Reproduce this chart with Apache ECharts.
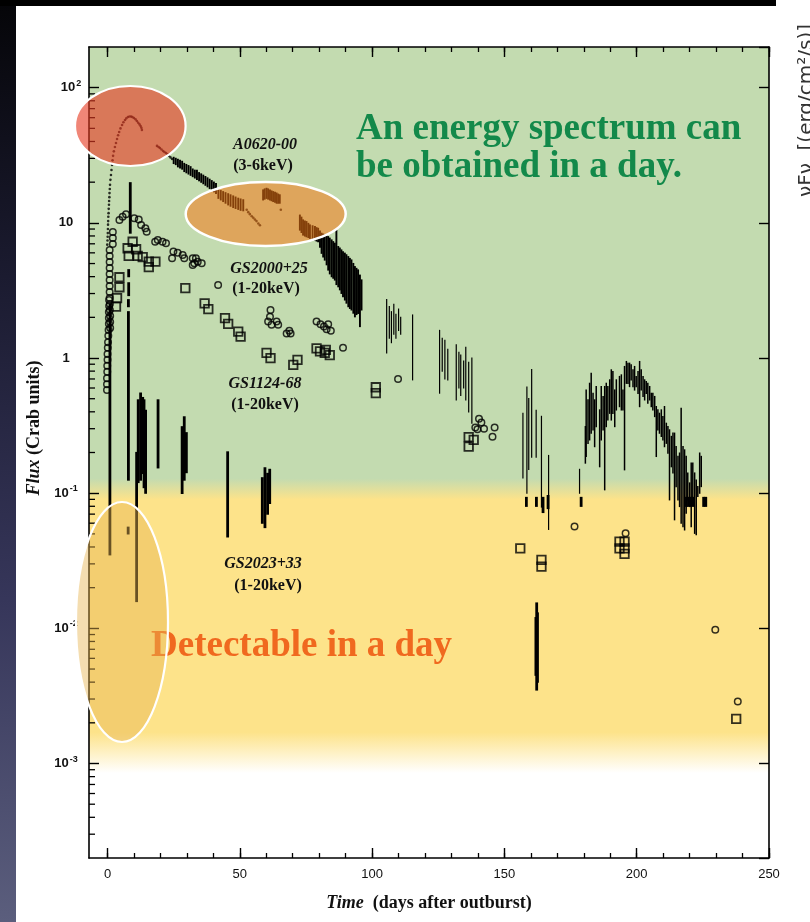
<!DOCTYPE html>
<html><head><meta charset="utf-8">
<style>html,body{margin:0;padding:0;background:#fff;}#c{width:810px;height:922px;}</style>
<script src="https://cdn.jsdelivr.net/npm/echarts@6/dist/echarts.min.js"></script>
</head><body><div id="c"></div>
<script>
// ---------- axis ranges & ticks ----------
const xMin = -7, xMax = 250;
const yMin = 2e-4, yMax = 200;
const xMajorTicks = [0, 50, 100, 150, 200, 250];
const xMinorTicks = [0,10,20,30,40,50,60,70,80,90,100,110,120,130,140,150,160,170,180,190,200,210,220,230,240,250];
const yTickValues = [0.001, 0.01, 0.1, 1, 10, 100];
const yTickText = ['10{s|-3}', '10{s|-2}', '10{s|-1}', '1', '10', '{p|10}{s|2}'];
const yMinorMantissa = [2,3,4,5,6,7,8,9];
const yMinorDecades = [1e-4, 1e-3, 1e-2, 1e-1, 1, 10];

// ---------- A0620-00 (3-6 keV) ----------
// dotted parts [day, flux]
const a0620Dots = [
 [-0.1,6.9],[0.0,7.4],[0.05,7.9],[0.1,8.4],[0.15,9.0],[0.2,9.7],[0.25,10.3],[0.3,11.1],[0.4,11.8],[0.45,12.7],
 [0.55,13.6],[0.6,14.5],[0.7,15.5],[0.75,16.6],[0.85,17.8],[0.95,19.1],[1.1,20.8],[1.3,22.6],[1.5,24.6],[1.7,26.8],
 [1.9,29.0],[2.1,31.3],[2.4,33.8],[2.8,36.4],[3.2,39.0],[3.6,41.7],[4.0,44.5],[4.4,47.0],[4.9,50.0],[5.5,53.0],
 [6.0,55.5],[6.6,57.7],[7.1,59.3],[7.7,60.7],[8.3,61.2],[8.9,61.2],[9.4,60.6],[10.0,59.7],[10.6,58.3],[11.1,56.7],
 [11.6,55.0],[12.1,53.5],[12.5,52.0],[12.8,50.5],[13.0,48.7],
 [18.7,37.1],[19.3,36.4],[19.8,35.8],[20.4,34.9],[21.0,34.0],[21.5,33.4],[22.1,32.9],[22.7,32.1],[23.2,31.3],[23.8,30.5],[24.4,29.7],
 [52.6,12.5],[53.2,12.0],[53.8,11.6],[54.5,11.2],[55.1,10.9],[55.7,10.6],[56.3,10.3],[57.0,9.9],[57.6,9.6],[65.5,12.5]
];
// dense decline [day, low, high]
const a0620Band = [
 [25.0,27.5,30.5],[25.8,27.0,30.0],[26.6,26.0,29.5],[27.4,25.5,29.0],[28.2,25.0,28.5],[29.0,24.0,27.5],[29.8,23.5,27.0],
 [30.6,23.0,26.5],[31.4,22.5,26.0],[32.2,22.0,25.0],[33.0,21.5,24.5],[33.8,21.0,24.5],[34.6,20.5,23.5],[35.4,20.0,23.0],
 [36.2,19.5,22.5],[37.0,19.0,22.0],[37.8,18.5,21.5],[38.6,18.0,21.0],[39.4,17.5,20.5],[40.2,17.0,20.0],[41.0,16.5,19.5],
 [41.9,15.2,17.5],[42.8,14.8,17.3],[43.7,14.4,17.0],[44.6,14.0,16.7],[45.6,13.6,16.4],[46.5,13.3,16.1],[47.5,13.0,15.8],
 [48.4,12.8,15.5],[49.4,12.6,15.2],[50.3,12.4,15.0],[51.3,12.3,14.8],
 [58.8,14.8,17.5],[59.4,15.0,17.8],[60.1,15.2,18.0],[60.7,15.0,17.8],[61.4,14.8,17.5],[62.0,14.6,17.2],[62.6,14.4,17.0],
 [63.3,14.2,16.8],[63.9,14.0,16.6],[64.5,14.0,16.3],[65.1,14.0,16.1],
 [72.7,8.85,11.4],[73.3,8.5,11.0],[73.9,8.13,10.5],[74.6,8.0,10.3],[75.2,7.9,10.2],[75.9,7.8,9.9],[76.5,7.69,9.64],
 [77.5,7.6,9.5],[78.4,7.47,9.37],[79.0,7.35,9.2],[79.6,7.26,9.1],[80.3,6.6,8.7],[80.9,5.96,8.37],[81.5,5.6,8.25],
 [82.1,5.31,8.13],[82.8,4.9,8.0],[83.4,4.48,7.9],[84.0,4.2,7.7],[84.7,4.0,7.47],[85.3,3.9,7.25],[85.9,3.78,7.06],
 [86.5,3.5,8.85],[87.2,3.37,6.67],[87.8,3.2,6.5],[88.4,3.01,6.3],[89.0,2.85,6.1],[89.7,2.69,5.96],[90.3,2.55,5.8],
 [91.0,2.4,5.62],[91.6,2.33,5.45],[92.2,2.27,5.31],[92.9,2.15,5.0],[93.5,2.02,4.74],[94.1,2.1,4.6],[94.7,2.14,4.48],
 [95.4,1.71,4.1],[96.0,2.27,3.78]
];
const a0620Sparse = [
 [105.5,1.09,2.7],[106.5,1.4,2.4],[107.3,1.3,2.2],[108.2,1.5,2.5],[109.0,1.4,2.1],[110.0,1.6,2.3],[110.8,1.5,2.0],[115.3,0.69,2.08],
 [125.5,0.55,1.6],[126.5,0.8,1.4],[127.5,0.7,1.35],[128.6,0.69,1.16],
 [131.8,0.49,1.25],[132.8,0.6,1.1],[133.5,0.53,1.05],[134.6,0.6,0.95],[135.4,0.49,1.2],[136.5,0.4,0.93],[137.7,0.33,1.0],
 [157.0,0.13,0.39],[158.5,0.10,0.61],[159.2,0.15,0.5],[160.3,0.185,0.82],[162.0,0.185,0.41],[164.0,0.079,0.37],[166.7,0.054,0.19],
 [178.4,0.1,0.15]
];
const a0620Second = [
 [180.6,0.167,0.311],[180.9,0.187,0.58],[181.6,0.234,0.49],[182.2,0.248,0.65],[182.8,0.278,0.77],[183.5,0.294,0.548],
 [184.1,0.221,0.49],[184.7,0.311,0.615],[186.0,0.157,0.413],[186.6,0.248,0.615],[187.3,0.294,0.519],[187.9,0.106,0.615],
 [188.5,0.311,0.65],[189.1,0.348,0.615],[189.8,0.39,0.689],[190.4,0.348,0.817],[191.0,0.39,0.794],[191.7,0.311,0.58],
 [192.3,0.413,0.689],[193.5,0.437,0.73],[194.2,0.413,0.75],[194.8,0.413,0.58],[195.4,0.149,0.865],[196.1,0.65,0.942],
 [196.7,0.65,0.915],[197.3,0.615,0.915],[197.9,0.689,0.889],[198.6,0.615,0.817],[199.2,0.58,0.865],[199.8,0.615,0.73],
 [200.5,0.548,0.794],[201.1,0.437,0.942],[201.7,0.58,0.817],[202.4,0.519,0.73],[203.0,0.49,0.689],[203.6,0.548,0.669],
 [204.2,0.463,0.65],[204.9,0.49,0.615],[205.5,0.437,0.548],[206.1,0.413,0.548],[206.8,0.369,0.519],[207.4,0.187,0.437],
 [208.0,0.294,0.413],[208.6,0.278,0.39],[209.3,0.263,0.413],[209.9,0.248,0.369],[210.5,0.221,0.437],[211.2,0.234,0.329],
 [211.8,0.198,0.311],[212.4,0.0893,0.294],[213.1,0.157,0.263],[213.7,0.141,0.278],[214.3,0.0636,0.278],[214.9,0.112,0.221],
 [215.6,0.0893,0.187],[216.2,0.0797,0.198],[216.8,0.06,0.425],[217.5,0.0566,0.221],[218.1,0.0535,0.209],[218.7,0.0711,0.187],
 [219.3,0.0893,0.141],[220.0,0.0797,0.119],[220.6,0.0566,0.167],[221.2,0.0893,0.167],[221.9,0.0505,0.141],[222.5,0.0493,0.125],
 [223.1,0.0945,0.112],[223.8,0.1,0.198],[224.4,0.112,0.187]
];

// ---------- GS2000+25 (1-20 keV), circles [day, flux] ----------
const gs2000 = [
 [0.6,2.69],[0.6,2.43],[0.5,2.19],[0.5,1.98],[0.5,1.79],[0.4,1.61],[0.3,1.46],[0.2,1.31],[0.1,1.19],[0.0,1.07],
 [0.0,0.97],[-0.1,0.875],[-0.1,0.79],[-0.2,0.71],[-0.2,0.64],[-0.2,0.58],
 [0.8,6.3],[0.8,5.69],[0.8,5.14],[0.8,4.64],[0.8,4.19],[0.8,3.78],[0.8,3.41],[0.8,3.08],[0.8,2.78],
 [0.9,2.51],[0.9,2.27],[1.0,2.05],[1.0,1.85],[1.0,1.67],
 [2.0,8.55],[2.0,7.73],[2.0,6.98],
 [4.5,10.5],[5.7,11.1],[7.0,11.6],[10.1,10.8],[11.8,10.6],[12.7,9.65],[14.3,9.12],[14.8,8.61],
 [18.0,7.25],[19.0,7.47],[20.8,7.25],[22.1,7.06],
 [24.4,5.47],[24.9,6.13],[26.5,6.0],[28.4,5.78],[29.0,5.47],
 [32.2,5.47],[32.2,4.88],[32.8,5.03],[33.4,5.47],[34.1,5.16],
 [35.6,5.03],[41.8,3.47],
 [60.7,1.86],[61.4,2.02],[61.6,2.27],[62.0,1.76],[63.9,1.86],[64.5,1.76],[67.7,1.52],[68.7,1.59],[69.2,1.52],
 [79.0,1.86],[80.5,1.78],[81.8,1.71],[82.8,1.63],[83.4,1.78],[84.4,1.59],
 [89.0,1.19],[109.8,0.70],
 [139.0,0.306],[139.8,0.297],[140.4,0.355],[141.3,0.333],[142.3,0.30],[145.5,0.262],[146.3,0.306],
 [176.5,0.0566],[195.8,0.0506],[229.7,0.00976],[238.2,0.00288]
];

// ---------- GS1124-68 (1-20 keV), squares [day, flux] ----------
const gs1124 = [
 [3.2,2.40],[3.6,2.77],[4.5,3.34],[4.5,3.96],[7.6,6.49],[8.0,5.69],[9.5,7.25],[10.8,6.38],[11.4,5.69],[13.3,5.57],
 [15.6,5.16],[15.6,4.70],[18.1,5.16],[29.4,3.29],[36.7,2.54],[38.1,2.30],[44.4,1.97],[45.6,1.79],[49.4,1.57],[50.3,1.44],
 [60.1,1.09],[61.6,0.997],[70.2,0.889],[71.8,0.968],[79.0,1.18],[80.3,1.12],[82.1,1.09],[82.5,1.15],[84.0,1.05],
 [101.4,0.608],[101.4,0.55],[136.5,0.26],[136.5,0.221],[138.4,0.248],[156.0,0.039],[164.0,0.0321],[164.0,0.0286],
 [193.5,0.0438],[195.4,0.0438],[193.5,0.039],[195.4,0.039],[195.4,0.0356],[237.6,0.00214]
];

// ---------- GS2023+33 (1-20 keV), vertical bars [day, low, high] ----------
const gs2023 = [
 [0.9,0.035,2.5],[8.6,8.4,19.8],[8.0,4.0,4.5],[8.0,2.9,3.6],[7.9,2.4,2.7],[7.9,0.125,2.2],[7.8,0.05,0.056],
 [11.0,0.0158,0.2],
 [11.6,0.12,0.49],[12.5,0.125,0.55],[13.3,0.14,0.51],[13.8,0.11,0.49],[14.4,0.1,0.41],
 [19.1,0.154,0.49],
 [28.2,0.0996,0.31],[29.0,0.125,0.367],[29.8,0.142,0.28],
 [45.4,0.0475,0.202],
 [58.5,0.06,0.13],[59.5,0.0557,0.154],[60.5,0.07,0.14],[61.3,0.084,0.15],
 [158.3,0.08,0.093],[162.1,0.08,0.093],[164.6,0.072,0.093],[166.5,0.077,0.096],[179.0,0.08,0.093],
 [161.9,0.0045,0.012],[162.2,0.0035,0.0154],[162.5,0.004,0.013],
 [218.8,0.08,0.093],[219.6,0.08,0.093],[220.4,0.08,0.093],[221.2,0.08,0.093],[225.3,0.08,0.093],[226.1,0.08,0.093]
];

// ---------- build ----------
const yMinorTicks = [];
yMinorDecades.forEach(d => yMinorMantissa.forEach(m => {
  const v = m * d; if (v > yMin * 1.0001 && v < yMax * 0.9999) yMinorTicks.push([xMin, v]);
}));

const chart = echarts.init(document.getElementById('c'), null, {renderer: 'canvas'});

function barSeries(data, lw) {
  return {
    type: 'custom', data: data, encode: {x: 0, y: [1, 2]}, silent: true, z: 3,
    renderItem: function (params, api) {
      const a = api.coord([api.value(0), api.value(1)]);
      const b = api.coord([api.value(0), api.value(2)]);
      return {type: 'line', shape: {x1: a[0], y1: a[1] + 0.6, x2: b[0], y2: b[1] - 0.6},
              style: {stroke: '#000', lineWidth: lw}};
    }
  };
}

const serif = '"Liberation Serif", "Times New Roman", serif';
const sans = '"Liberation Sans", Arial, sans-serif';

const xCommon = {type: 'value', min: xMin, max: xMax, splitLine: {show: false}, gridIndex: 0};

const option = {
  backgroundColor: '#ffffff',
  animation: false,
  grid: {
    left: 89, right: 41, top: 47, bottom: 64, show: true, borderWidth: 0,
    outerBoundsMode: 'none',
    backgroundColor: {type: 'linear', x: 0, y: 0, x2: 0, y2: 1, colorStops: [
      {offset: 0, color: '#c3dbb0'}, {offset: 0.532, color: '#c3dbb0'},
      {offset: 0.558, color: '#fde38a'}, {offset: 0.845, color: '#fde38a'},
      {offset: 0.895, color: '#ffffff'}, {offset: 1, color: '#ffffff'}]}
  },
  xAxis: [
    Object.assign({}, xCommon, {
      position: 'bottom',
      axisLine: {show: true, onZero: false, lineStyle: {color: '#000', width: 1.6}},
      axisTick: {show: true, inside: true, length: 10, customValues: xMajorTicks, lineStyle: {color: '#000', width: 1.4}},
      axisLabel: {show: true, customValues: xMajorTicks, margin: 10, color: '#111', fontSize: 13, fontFamily: sans},
      name: '{i|Time}  (days after outburst)', nameLocation: 'middle', nameGap: 36,
      nameTextStyle: {fontFamily: serif, fontWeight: 'bold', fontSize: 18, color: '#111',
        rich: {i: {fontFamily: serif, fontWeight: 'bold', fontStyle: 'italic', fontSize: 18, color: '#111'}}}
    }),
    Object.assign({}, xCommon, {
      position: 'bottom', axisLine: {show: false},
      axisTick: {show: true, inside: true, length: 5, customValues: xMinorTicks, lineStyle: {color: '#000', width: 1.3}},
      axisLabel: {show: false}
    }),
    Object.assign({}, xCommon, {
      position: 'top',
      axisLine: {show: true, onZero: false, lineStyle: {color: '#000', width: 1.6}},
      axisTick: {show: true, inside: true, length: 10, customValues: xMajorTicks, lineStyle: {color: '#000', width: 1.4}},
      axisLabel: {show: false}
    }),
    Object.assign({}, xCommon, {
      position: 'top', axisLine: {show: false},
      axisTick: {show: true, inside: true, length: 5, customValues: xMinorTicks, lineStyle: {color: '#000', width: 1.3}},
      axisLabel: {show: false}
    })
  ],
  yAxis: [
    {
      type: 'log', logBase: 10, min: yMin, max: yMax, position: 'left', splitLine: {show: false},
      axisLine: {show: true, onZero: false, lineStyle: {color: '#000', width: 1.6}},
      axisTick: {show: true, inside: true, length: 10, lineStyle: {color: '#000', width: 1.4}},
      axisLabel: {
        show: true, margin: 23, align: 'center', color: '#111', fontSize: 13, fontWeight: 'bold', fontFamily: sans,
        showMinLabel: false, showMaxLabel: false,
        formatter: function (v) {
          const i = yTickValues.findIndex(t => Math.abs(Math.log10(t) - Math.log10(v)) < 1e-6);
          return i < 0 ? '' : yTickText[i];
        },
        rich: {
          s: {fontSize: 9, fontWeight: 'bold', fontFamily: sans, color: '#111', padding: [0, 0, 9, 1]},
          p: {fontSize: 13, fontWeight: 'bold', fontFamily: sans, color: '#111', padding: [0, 0, 0, 10]}
        }
      },
      name: '{i|Flux} (Crab units)', nameLocation: 'middle', nameGap: 36, nameRotate: 90,
      nameTextStyle: {fontFamily: serif, fontWeight: 'bold', fontSize: 18, color: '#111', padding: [0, 0, 0, 49],
        rich: {i: {fontFamily: serif, fontWeight: 'bold', fontStyle: 'italic', fontSize: 18, color: '#111'}}}
    },
    {
      type: 'log', logBase: 10, min: yMin, max: yMax, position: 'right', splitLine: {show: false},
      axisLine: {show: true, onZero: false, lineStyle: {color: '#000', width: 1.6}},
      axisTick: {show: true, inside: true, length: 10, lineStyle: {color: '#000', width: 1.4}},
      axisLabel: {show: false}
    }
  ],
  series: [
    {
      type: 'custom', data: yMinorTicks, encode: {x: 0, y: 1}, silent: true, clip: false, z: 4,
      renderItem: function (params, api) {
        const p = api.coord([api.value(0), api.value(1)]);
        return {type: 'line', shape: {x1: p[0], y1: p[1], x2: p[0] + 6, y2: p[1]}, style: {stroke: '#000', lineWidth: 1.3}};
      }
    },
    barSeries(a0620Band, 1.9),
    barSeries(a0620Sparse, 1.2),
    barSeries(a0620Second, 1.5),
    barSeries(gs2023, 2.8),
    {type: 'scatter', data: a0620Dots, symbol: 'circle', symbolSize: 2.6, silent: true, z: 3,
     itemStyle: {color: '#000'}},
    {type: 'scatter', data: gs2000, symbol: 'circle', symbolSize: 6.5, silent: true, z: 4,
     itemStyle: {color: 'rgba(0,0,0,0)', borderColor: '#000', borderWidth: 1.5}},
    {type: 'scatter', data: gs1124, symbol: 'rect', symbolSize: 8.5, silent: true, z: 4,
     itemStyle: {color: 'rgba(0,0,0,0)', borderColor: '#000', borderWidth: 1.8}}
  ],
  graphic: [
    {type: 'rect', z: -5, silent: true, shape: {x: 0, y: 0, width: 16, height: 922},
     style: {fill: {type: 'linear', x: 0, y: 0, x2: 0, y2: 1, colorStops: [
       {offset: 0, color: '#050508'}, {offset: 0.3, color: '#1b1b30'}, {offset: 0.65, color: '#36365a'}, {offset: 1, color: '#5b5e7d'}]}}},
    {type: 'rect', z: -5, silent: true, shape: {x: 0, y: 0, width: 776, height: 6}, style: {fill: '#000'}},
    {type: 'text', z: 5, silent: true, x: 797, y: 197, rotation: Math.PI / 2,
     style: {text: 'νFν  [(erg/cm²/s)]', font: '20px "DejaVu Sans", sans-serif', fill: '#333', align: 'left', verticalAlign: 'top'}},
    // source labels
    {type: 'text', z: 6, silent: true, style: {text: 'A0620-00', x: 265, y: 145, font: 'italic bold 16px ' + serif, fill: '#111', align: 'center', verticalAlign: 'middle'}},
    {type: 'text', z: 6, silent: true, style: {text: '(3-6keV)', x: 263, y: 166, font: 'bold 16px ' + serif, fill: '#111', align: 'center', verticalAlign: 'middle'}},
    {type: 'text', z: 6, silent: true, style: {text: 'GS2000+25', x: 269, y: 269, font: 'italic bold 16px ' + serif, fill: '#111', align: 'center', verticalAlign: 'middle'}},
    {type: 'text', z: 6, silent: true, style: {text: '(1-20keV)', x: 266, y: 289, font: 'bold 16px ' + serif, fill: '#111', align: 'center', verticalAlign: 'middle'}},
    {type: 'text', z: 6, silent: true, style: {text: 'GS1124-68', x: 265, y: 384, font: 'italic bold 16px ' + serif, fill: '#111', align: 'center', verticalAlign: 'middle'}},
    {type: 'text', z: 6, silent: true, style: {text: '(1-20keV)', x: 265, y: 405, font: 'bold 16px ' + serif, fill: '#111', align: 'center', verticalAlign: 'middle'}},
    {type: 'text', z: 6, silent: true, style: {text: 'GS2023+33', x: 263, y: 564, font: 'italic bold 16px ' + serif, fill: '#111', align: 'center', verticalAlign: 'middle'}},
    {type: 'text', z: 6, silent: true, style: {text: '(1-20keV)', x: 268, y: 586, font: 'bold 16px ' + serif, fill: '#111', align: 'center', verticalAlign: 'middle'}},
    // overlay annotations
    {type: 'text', z: 9, silent: true, style: {text: 'Detectable in a day', x: 151, y: 646, font: 'bold 37px ' + serif, fill: '#f0691f', align: 'left', verticalAlign: 'middle'}},
    {type: 'ellipse', z: 10, silent: true, shape: {cx: 130.3, cy: 126, rx: 55.3, ry: 40},
     style: {fill: 'rgba(230,60,35,0.62)', stroke: '#ffffff', lineWidth: 2.2}},
    {type: 'ellipse', z: 10, silent: true, shape: {cx: 265.7, cy: 214, rx: 80, ry: 32},
     style: {fill: 'rgba(245,120,20,0.54)', stroke: '#ffffff', lineWidth: 2.5}},
    {type: 'ellipse', z: 10, silent: true, shape: {cx: 122, cy: 622, rx: 46, ry: 120},
     style: {fill: 'rgba(230,180,80,0.45)', stroke: '#ffffff', lineWidth: 2.2}},
    {type: 'text', z: 11, silent: true, style: {text: 'An energy spectrum can\nbe obtained in a day.', x: 356, y: 110, font: 'bold 37px ' + serif, lineHeight: 38, fill: '#13894a', align: 'left', verticalAlign: 'top'}}
  ]
};
chart.setOption(option);
</script></body></html>
